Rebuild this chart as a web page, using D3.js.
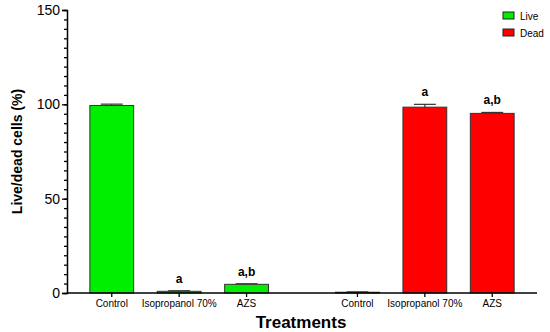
<!DOCTYPE html>
<html>
<head>
<meta charset="UTF-8">
<style>
  body { margin: 0; background: #fff; }
  svg { display: block; font-family: "Liberation Sans", Arial, sans-serif; }
</style>
</head>
<body>
<svg id="chart"></svg>
<script src="https://cdn.jsdelivr.net/npm/d3@7"></script>
<script>
// data
const groups = ["Live", "Dead"];
const treatments = ["Control", "Isopropanol 70%", "AZS"];
const liveValues = [99.4, 0.9, 4.6];
const liveErrors = [0.7, 0.3, 0.3];
const deadValues = [0.4, 98.5, 95.2];
const deadErrors = [0.2, 1.5, 0.5];
const liveLetters = ["", "a", "a,b"];
const deadLetters = ["", "a", "a,b"];
const yTicks = [0, 50, 100, 150];
const colors = { Live: "#00ee00", Dead: "#ff0000" };

const width = 550, height = 332;
const margin = { top: 10, right: 13, bottom: 39, left: 67 };

const svg = d3.select("#chart").attr("width", width).attr("height", height);

const rows = [];
groups.forEach(g => {
  const vals = g === "Live" ? liveValues : deadValues;
  const errs = g === "Live" ? liveErrors : deadErrors;
  const lets = g === "Live" ? liveLetters : deadLetters;
  treatments.forEach((t, i) => rows.push({ group: g, treatment: t, value: vals[i], err: errs[i], letter: lets[i] }));
});

const x0 = d3.scaleBand().domain(groups)
  .range([margin.left, width - margin.right])
  .paddingInner(0.177).paddingOuter(0.045);
const x1 = d3.scaleBand().domain(treatments)
  .range([0, x0.bandwidth()])
  .paddingInner(0.35).paddingOuter(0.175);
const y = d3.scaleLinear().domain([0, 150]).range([height - margin.bottom, margin.top]);

// y axis
const yAxis = svg.append("g").attr("transform", `translate(${margin.left},0)`);
yAxis.call(d3.axisLeft(y).tickValues(d3.range(0, 151, 5)).tickSize(3).tickFormat(""))
  .call(g => g.select(".domain").remove());
yAxis.append("g").call(d3.axisLeft(y).tickValues(yTicks).tickSize(5).tickPadding(2))
  .call(g => g.selectAll("text").style("font-size", "14px").attr("fill", "#000"));
yAxis.selectAll("line").attr("stroke", "#000").attr("stroke-width", 1.3);
yAxis.selectAll(".domain").attr("stroke", "#000").attr("stroke-width", 1.5);

// bars
const bars = svg.append("g");
bars.selectAll("rect").data(rows).join("rect")
  .attr("x", d => x0(d.group) + x1(d.treatment))
  .attr("y", d => y(d.value))
  .attr("width", x1.bandwidth())
  .attr("height", d => y(0) - y(d.value))
  .attr("fill", d => colors[d.group])
  .attr("stroke", "#333")
  .attr("stroke-width", 1);

// error bars (upper only)
const eb = svg.append("g").attr("stroke", "#333").attr("stroke-width", 1.2);
rows.forEach(d => {
  const cx = x0(d.group) + x1(d.treatment) + x1.bandwidth() / 2;
  const cw = x1.bandwidth() / 4;
  eb.append("line").attr("x1", cx).attr("x2", cx).attr("y1", y(d.value)).attr("y2", y(d.value + d.err));
  eb.append("line").attr("x1", cx - cw).attr("x2", cx + cw).attr("y1", y(d.value + d.err)).attr("y2", y(d.value + d.err));
});

// letters
svg.append("g").selectAll("text").data(rows.filter(d => d.letter)).join("text")
  .attr("x", d => x0(d.group) + x1(d.treatment) + x1.bandwidth() / 2)
  .attr("y", d => y(d.value + d.err) - 8)
  .attr("text-anchor", "middle")
  .style("font-size", "12px").style("font-weight", "bold")
  .text(d => d.letter);

// x axis
const xAxis = svg.append("g").attr("transform", `translate(0,${y(0)})`);
xAxis.append("line").attr("x1", margin.left).attr("x2", width - margin.right)
  .attr("stroke", "#000").attr("stroke-width", 1.5);
groups.forEach(g => {
  const ga = xAxis.append("g").attr("transform", `translate(${x0(g)},0)`);
  ga.call(d3.axisBottom(x1).tickSize(4).tickPadding(3));
  ga.select(".domain").remove();
  ga.selectAll("line").attr("stroke", "#000").attr("stroke-width", 1.3);
  ga.selectAll("text").style("font-size", "10px").attr("fill", "#000");
});

// axis titles
svg.append("text")
  .attr("transform", `translate(22,${(y(0) + y(150)) / 2}) rotate(-90)`)
  .attr("text-anchor", "middle")
  .style("font-size", "14px").style("font-weight", "bold")
  .text("Live/dead cells (%)");
svg.append("text")
  .attr("x", 301).attr("y", 328)
  .attr("text-anchor", "middle")
  .style("font-size", "17px").style("font-weight", "bold")
  .text("Treatments");

// legend
const legend = svg.append("g").attr("transform", "translate(503,12)");
groups.forEach((g, i) => {
  const row = legend.append("g").attr("transform", `translate(0,${i * 17})`);
  row.append("rect").attr("width", 11).attr("height", 7)
    .attr("fill", colors[g]).attr("stroke", "#222").attr("stroke-width", 1);
  row.append("text").attr("x", 17).attr("y", 7.5)
    .style("font-size", "10px").text(g);
});
</script>
</body>
</html>
